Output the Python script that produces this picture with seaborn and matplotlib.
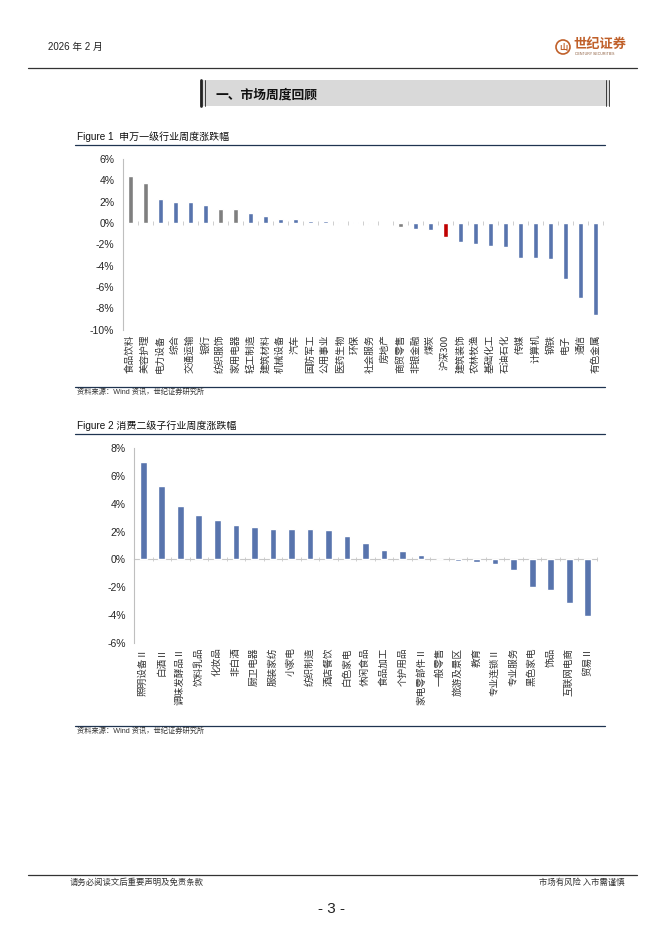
import matplotlib
matplotlib.use("Agg")
import matplotlib.pyplot as plt
import matplotlib.patches as mpatches
from matplotlib.ticker import FuncFormatter
import seaborn as sns

# ── Data ──────────────────────────────────────────────────────────
fig1_cats = [
    "食品饮料", "美容护理", "电力设备", "综合", "交通运输", "银行", "纺织服饰",
    "家用电器", "轻工制造", "建筑材料", "机械设备", "汽车", "国防军工", "公用事业",
    "医药生物", "环保", "社会服务", "房地产", "商贸零售", "非银金融", "煤炭",
    "沪深300", "建筑装饰", "农林牧渔", "基础化工", "石油石化", "传媒", "计算机",
    "钢铁", "电子", "通信", "有色金属",
]
fig1_vals = [
    4.40, 3.77, 2.23, 2.01, 1.95, 1.73, 1.29,
    1.29, 0.97, 0.69, 0.38, 0.35, 0.22, 0.16,
    0.12, 0.05, -0.06, -0.02, -0.38, -0.60, -0.63,
    -1.32, -1.82, -1.98, -2.14, -2.26, -3.27, -3.33,
    -3.40, -5.28, -7.04, -8.65,
]
consumer = ["食品饮料", "美容护理", "纺织服饰", "家用电器", "社会服务", "商贸零售"]
benchmark = "沪深300"

fig2_cats = [
    "照明设备Ⅱ", "白酒Ⅱ", "调味发酵品Ⅱ", "饮料乳品", "化妆品", "非白酒",
    "厨卫电器", "服装家纺", "小家电", "纺织制造", "酒店餐饮", "白色家电",
    "休闲食品", "食品加工", "个护用品", "家电零部件Ⅱ", "一般零售", "旅游及景区",
    "教育", "专业连锁Ⅱ", "专业服务", "黑色家电", "饰品", "互联网电商", "贸易Ⅱ",
]
fig2_vals = [
    6.99, 5.28, 3.81, 3.20, 2.82, 2.46,
    2.34, 2.22, 2.22, 2.17, 2.12, 1.66,
    1.18, 0.70, 0.63, 0.31, 0.01, -0.12,
    -0.19, -0.36, -0.77, -2.00, -2.24, -3.16, -4.05,
]

BLUE = "#5874ad"
GRAY = "#7f7f7f"
RED = "#c00000"

CJK = ["Noto Sans CJK SC", "DejaVu Sans"]
LATIN = ["Liberation Sans", "Noto Sans CJK SC", "DejaVu Sans"]

sns.set_style("white")
plt.rcParams["font.family"] = LATIN

W, H = 662, 936
fig = plt.figure(figsize=(W / 100, H / 100), dpi=100)

# page layer in pixel coordinates
page = fig.add_axes([0, 0, 1, 1], zorder=-1)
page.set_xlim(0, W)
page.set_ylim(H, 0)
page.axis("off")

# header
page.text(48, 47, "2026 年 2 月", fontsize=7, family=LATIN, va="center", color="#222222")
page.add_patch(mpatches.Circle((563, 47), 7, fill=False, ec="#c0602a", lw=1.2))
page.text(563, 47.5, "山", fontsize=6, family=CJK, ha="center", va="center",
          color="#c0602a", fontweight="bold")
page.text(573, 44, "世纪证券", fontsize=9.5, family=CJK, va="center",
          color="#c0602a", fontweight="bold")
page.text(575, 54, "CENTURY SECURITIES", fontsize=2.6, family=LATIN, va="center",
          color="#8a5a3a")
page.plot([28, 637], [68, 68], color="#333333", lw=0.9)

# section heading
page.add_patch(mpatches.Rectangle((200, 80), 409, 26, fc="#d9d9d9", ec="none"))
page.plot([201, 201], [80, 106], color="#222222", lw=2)
page.plot([204.5, 204.5], [80, 106], color="#222222", lw=0.6)
page.plot([605.5, 605.5], [80, 106], color="#222222", lw=0.6)
page.plot([608.5, 608.5], [80, 106], color="#222222", lw=0.6)
page.text(215, 95, "一、市场周度回顾", fontsize=9.2, family=CJK, va="center",
          fontweight="bold", color="#111111")

# figure captions, rules and sources
for ty, ly, title in [(137, 145, "Figure 1  申万一级行业周度涨跌幅"),
                      (426, 434, "Figure 2 消费二级子行业周度涨跌幅")]:
    page.text(77, ty, title, fontsize=7.2, family=LATIN, va="center", color="#111111")
    page.plot([75, 605], [ly, ly], color="#1f3450", lw=0.9)

for ly in [387, 726]:
    page.plot([75, 605], [ly, ly], color="#1f3450", lw=0.9)
    page.text(77, ly + 5, "资料来源：Wind 资讯，世纪证券研究所", fontsize=5.2,
              family=LATIN, va="center", color="#333333")

# footer
page.plot([28, 637], [875, 875], color="#333333", lw=0.9)
page.text(70, 882, "请务必阅读文后重要声明及免责条款", fontsize=6, family=CJK,
          va="center", color="#333333")
page.text(625, 882, "市场有风险 入市需谨慎", fontsize=6, family=CJK,
          va="center", ha="right", color="#333333")
page.text(331, 909, "- 3 -", fontsize=11, family=LATIN, va="center", ha="center",
          color="#222222")


def px_axes(left, top, right, bottom):
    return fig.add_axes([left / W, 1 - bottom / H, (right - left) / W, (bottom - top) / H])


def draw_bars(ax, cats, vals, colors, ymin, ymax, width):
    sns.barplot(x=cats, y=vals, hue=cats, palette=dict(zip(cats, colors)),
                legend=False, width=width, saturation=1, ax=ax)
    ax.set_ylim(ymin, ymax)
    ax.set_yticks(range(ymin, ymax + 1, 2))
    ax.yaxis.set_major_formatter(FuncFormatter(lambda v, p: f"{v:.0f}%"))
    ax.tick_params(axis="y", direction="out", length=3, width=0.6, color="#bfbfbf",
                   labelsize=7.5, labelcolor="#262626", pad=3)
    ax.tick_params(axis="x", length=0, pad=3.5)
    ax.set_xticks(range(len(cats)))
    ax.set_xticklabels(cats, rotation=90, fontsize=6.9, family=CJK,
                       color="#333333", va="top", ha="center")
    for side in ["top", "right", "bottom"]:
        ax.spines[side].set_visible(False)
    ax.spines["left"].set_color("#bfbfbf")
    ax.spines["left"].set_linewidth(0.8)
    ax.set_xlabel("")
    ax.set_ylabel("")
    ax.set_facecolor("none")
    # category axis crossing at 0 with boundary tick marks
    zero_pos = (0 - ymin) / (ymax - ymin)
    sec = ax.secondary_xaxis(zero_pos)
    sec.set_xticks([i + 0.5 for i in range(len(cats))])
    sec.tick_params(direction="inout", length=3, width=0.6, color="#c8c8c8",
                    labelbottom=False, labeltop=False)
    sec.spines["bottom"].set_color("#c8c8c8")
    sec.spines["bottom"].set_linewidth(0.8)
    sec.spines["top"].set_visible(False)


colors1 = [RED if c == benchmark else (GRAY if c in consumer else BLUE) for c in fig1_cats]
ax1 = px_axes(122.7, 159, 603, 329.5)
draw_bars(ax1, fig1_cats, fig1_vals, colors1, -10, 6, 0.35)

colors2 = [BLUE] * len(fig2_cats)
ax2 = px_axes(134, 448.3, 597, 642.7)
draw_bars(ax2, fig2_cats, fig2_vals, colors2, -6, 8, 0.36)

fig.savefig("out.png", dpi=100, facecolor="white")
